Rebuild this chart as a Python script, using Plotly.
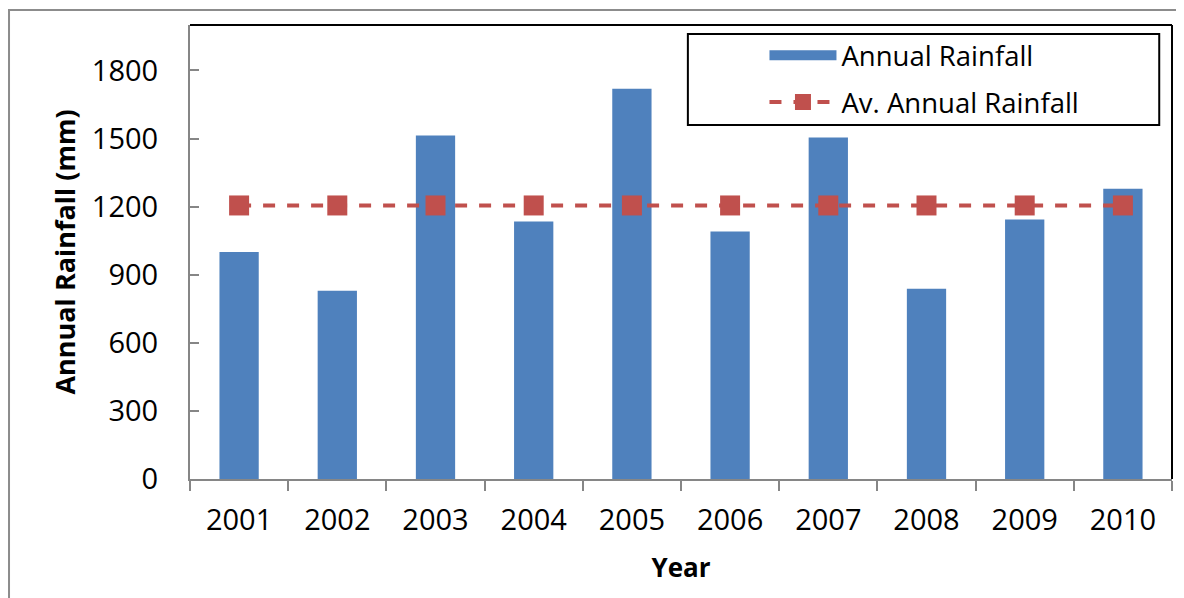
import plotly.graph_objects as go

years = ["2001", "2002", "2003", "2004", "2005", "2006", "2007", "2008", "2009", "2010"]
annual_rainfall = [1000, 829, 1513, 1134, 1719, 1090, 1504, 838, 1143, 1279]
avg_rainfall = [1205] * len(years)
y_ticks = [0, 300, 600, 900, 1200, 1500, 1800]

FONT = "Open Sans"
AXIS_GREY = "#868686"
BAR_BLUE = "#4F81BD"
LINE_RED = "#C0504D"

fig = go.Figure()

# 柱状图：年降雨量
fig.add_trace(go.Bar(
    x=years,
    y=annual_rainfall,
    name="Annual Rainfall",
    marker=dict(color=BAR_BLUE, line=dict(width=0)),
    showlegend=False,
))

# 图例用的宽色块（Excel 风格）
fig.add_trace(go.Scatter(
    x=[None], y=[None],
    mode="lines",
    name="Annual Rainfall",
    line=dict(color=BAR_BLUE, width=16),
    legendgroup="a",
))

# 平均年降雨量（虚线 + 方块）
fig.add_trace(go.Scatter(
    x=years,
    y=avg_rainfall,
    mode="lines+markers",
    name="Av. Annual Rainfall",
    line=dict(color=LINE_RED, width=4, dash="dash"),
    marker=dict(symbol="square", size=20, color=LINE_RED),
    legendgroup="b",
))

# 页面 body 有 8px 边距，所以图尺寸减 8
fig.update_layout(
    width=1176,
    height=590,
    margin=dict(l=182, r=12, t=17, b=119),
    paper_bgcolor="white",
    plot_bgcolor="white",
    font=dict(family=FONT, size=27, color="black"),
    bargap=0.6,
    showlegend=True,
    legend=dict(
        x=0.585, y=0.987,
        xanchor="left", yanchor="top",
        bgcolor="rgba(0,0,0,0)",
        borderwidth=0,
        font=dict(family=FONT, size=27.5),
        tracegroupgap=8,
        itemwidth=67,
    ),
    xaxis=dict(
        type="category",
        range=[-0.5, len(years) - 0.5],
        automargin=False,
        showline=True,
        linecolor=AXIS_GREY,
        linewidth=2,
        ticks="outside",
        ticklen=10,
        tickwidth=2,
        tickcolor=AXIS_GREY,
        tickson="boundaries",
        ticklabelstandoff=14,
        showgrid=False,
        tickfont=dict(family=FONT, size=29),
        title=dict(text="<b>Year</b>", font=dict(family=FONT, size=26), standoff=22),
    ),
    yaxis=dict(
        range=[0, 2000],
        automargin=False,
        tickvals=y_ticks,
        showline=True,
        linecolor=AXIS_GREY,
        linewidth=2,
        ticks="inside",
        ticklen=9,
        tickwidth=2,
        tickcolor=AXIS_GREY,
        ticklabelstandoff=24,
        showgrid=False,
        zeroline=False,
        tickfont=dict(family=FONT, size=29),
        title=dict(text="<b>Annual Rainfall (mm)</b>", font=dict(family=FONT, size=27), standoff=8),
    ),
    shapes=[
        # 外框
        dict(type="rect", xref="paper", yref="paper", x0=-0.1843, y0=-0.5, x1=1.05, y1=1.033,
             line=dict(color="#8c8c8c", width=2), layer="below"),
        # 绘图区上、右黑边
        dict(type="line", xref="paper", yref="paper", x0=0, y0=1, x1=1, y1=1,
             line=dict(color="black", width=2)),
        dict(type="line", xref="paper", yref="paper", x0=1, y0=0, x1=1, y1=1,
             line=dict(color="black", width=2)),
        # 图例边框
        dict(type="rect", xref="paper", yref="paper", x0=0.507, y0=0.78, x1=0.987, y1=0.98,
             line=dict(color="black", width=2)),
    ],
)

fig.write_html("out.html")
